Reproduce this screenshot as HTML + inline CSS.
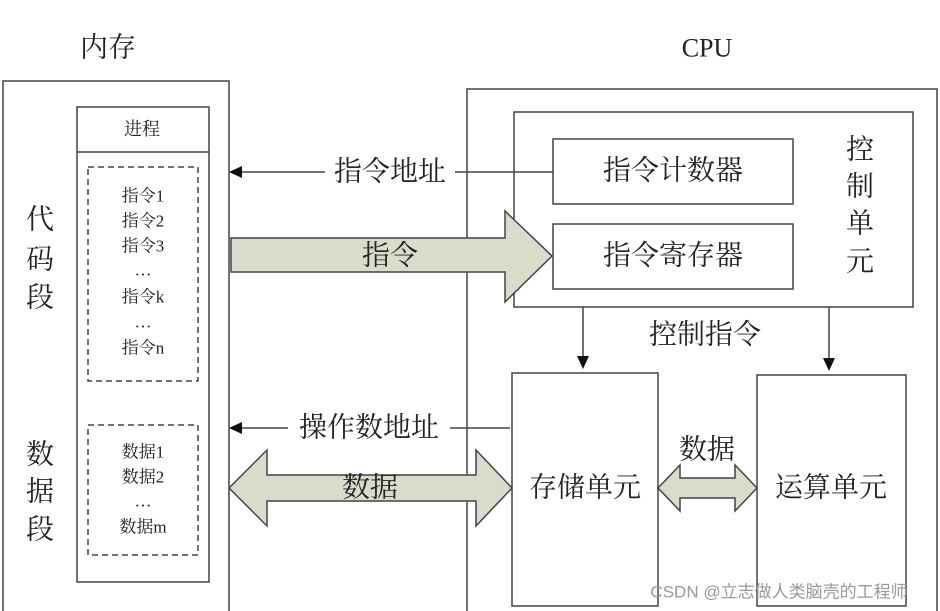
<!DOCTYPE html>
<html><head><meta charset="utf-8"><style>
html,body{margin:0;padding:0;background:#fff;}
svg{display:block;}
text{font-family:"Liberation Serif","Noto Serif CJK SC",serif;fill:#222;}
</style></head><body>
<svg width="940" height="611" viewBox="0 0 940 611" xmlns="http://www.w3.org/2000/svg">
<g fill="none" stroke="#444" stroke-width="1.5">
<rect x="3" y="81" width="226" height="540"/>
<rect x="77" y="107" width="132" height="475"/>
<line x1="77" y1="152" x2="209" y2="152"/>
<rect x="88" y="167" width="110" height="214" stroke-dasharray="6,4"/>
<rect x="88" y="425" width="110" height="130" stroke-dasharray="6,4"/>
<rect x="467" y="89" width="470" height="540"/>
<rect x="514" y="112" width="399" height="195"/>
<rect x="553" y="139" width="240" height="65"/>
<rect x="553" y="224" width="240" height="65"/>
<rect x="512" y="373" width="146" height="233"/>
<rect x="757" y="375" width="149" height="231"/>
<line x1="240" y1="172" x2="325" y2="172"/>
<line x1="455" y1="172" x2="553" y2="172"/>
<line x1="240" y1="428" x2="288" y2="428"/>
<line x1="450" y1="428" x2="510" y2="428"/>
<line x1="583" y1="307" x2="583" y2="358"/>
<line x1="829" y1="307" x2="829" y2="360"/>
</g>
<g fill="#111">
<polygon points="229,172 242,166 242,178"/>
<polygon points="229,428 242,422 242,434"/>
<polygon points="583,369 577,356 589,356"/>
<polygon points="829,371 823,358 835,358"/>
</g>
<g fill="#d7dccb" stroke="#444" stroke-width="1.5">
<polygon points="231,238 505,238 505,211 552,256 505,302 505,272 231,272"/>
<polygon points="229,488 267,450 267,475 476,475 476,450 512,488 476,526 476,501 267,501 267,526"/>
<polygon points="658,488 680,465 680,478 735,478 735,465 757,488 735,511 735,498 680,498 680,511"/>
</g>
<g text-anchor="middle" dominant-baseline="central">
<text x="108" y="48" font-size="28">内存</text>
<text x="707" y="48" font-size="26">CPU</text>
<text x="142" y="129" font-size="18">进程</text>
<g font-size="17">
<text x="143" y="196">指令1</text><text x="143" y="221">指令2</text><text x="143" y="246">指令3</text>
<text x="143" y="270">…</text><text x="143" y="297">指令k</text><text x="143" y="322">…</text><text x="143" y="348">指令n</text>
<text x="143" y="452">数据1</text><text x="143" y="477">数据2</text><text x="143" y="501">…</text><text x="143" y="527">数据m</text>
</g>
<g font-size="28">
<text x="40" y="220">代</text><text x="40" y="260">码</text><text x="40" y="298">段</text>
<text x="40" y="455">数</text><text x="40" y="492">据</text><text x="40" y="530">段</text>
<text x="860" y="150">控</text><text x="860" y="187">制</text><text x="860" y="224">单</text><text x="860" y="262">元</text>
<text x="390" y="172">指令地址</text>
<text x="390" y="256">指令</text>
<text x="369" y="428">操作数地址</text>
<text x="370" y="488">数据</text>
<text x="673" y="171">指令计数器</text>
<text x="673" y="256">指令寄存器</text>
<text x="705" y="335">控制指令</text>
<text x="707" y="450">数据</text>
<text x="585" y="488">存储单元</text>
<text x="831" y="488">运算单元</text>
</g>
<text x="779" y="592" font-size="17" style="font-family:'Liberation Sans','Noto Sans CJK SC',sans-serif;fill:#999">CSDN @立志做人类脑壳的工程师</text>
</g>
</svg>
</body></html>
